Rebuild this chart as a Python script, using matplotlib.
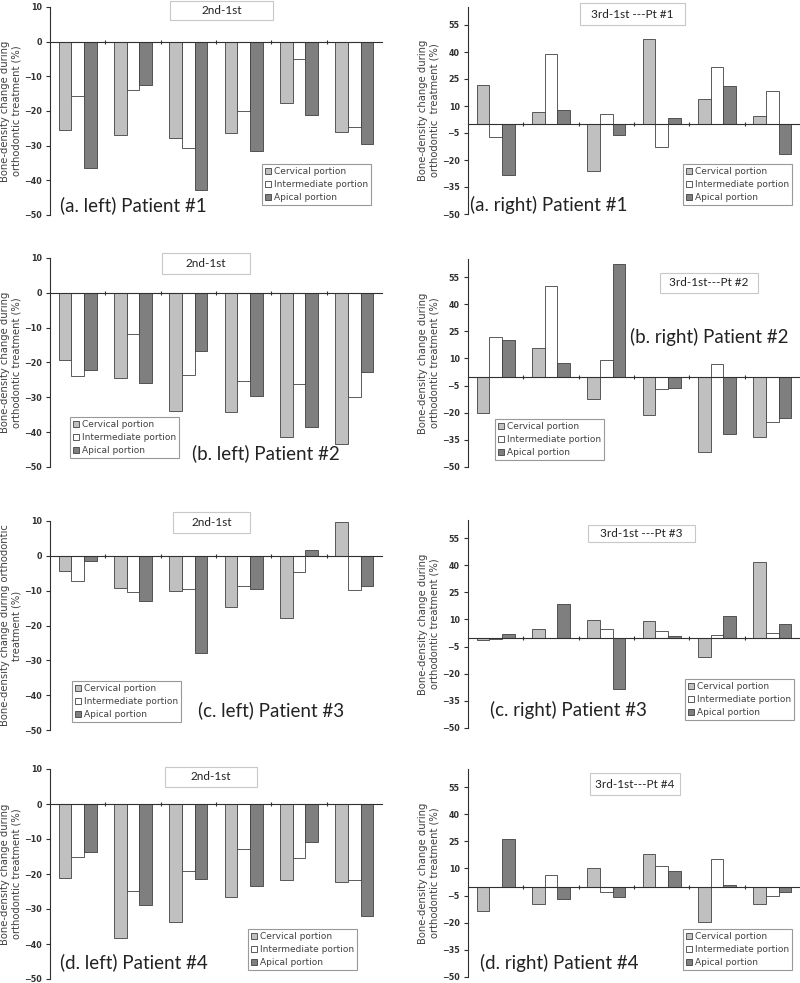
import matplotlib
matplotlib.use("Agg")
import matplotlib.pyplot as plt
from matplotlib.patches import Rectangle
import numpy as np

W, H = 800, 983

series_names = ["Cervical portion", "Intermediate portion", "Apical portion"]
bar_colors = ["#c0c0c0", "#ffffff", "#7f7f7f"]

# 2nd-1st (left column), six groups each
pt1_2nd_cerv = [-25.5, -26.8, -27.8, -26.3, -17.7, -26.0]
pt1_2nd_inter = [-15.6, -13.9, -30.6, -19.9, -5.0, -24.5]
pt1_2nd_apical = [-36.4, -12.6, -42.8, -31.4, -21.2, -29.6]

pt2_2nd_cerv = [-19.2, -24.5, -34.0, -34.3, -41.5, -43.3]
pt2_2nd_inter = [-24.0, -11.9, -23.5, -25.4, -26.2, -29.8]
pt2_2nd_apical = [-22.1, -26.0, -16.8, -29.7, -38.4, -22.6]

pt3_2nd_cerv = [-4.4, -9.1, -10.1, -14.6, -17.8, 9.6]
pt3_2nd_inter = [-7.3, -10.5, -9.4, -8.6, -4.7, -9.9]
pt3_2nd_apical = [-1.5, -13.0, -27.8, -9.4, 1.8, -8.6]

pt4_2nd_cerv = [-21.2, -38.3, -33.8, -26.7, -21.6, -22.4]
pt4_2nd_inter = [-15.0, -24.8, -19.2, -12.9, -15.4, -21.7]
pt4_2nd_apical = [-13.6, -28.9, -21.4, -23.4, -10.9, -31.9]

# 3rd-1st (right column)
pt1_3rd_cerv = [21.9, 6.7, -26.3, 47.0, 13.7, 4.3]
pt1_3rd_inter = [-7.4, 38.9, 5.6, -12.6, 31.5, 18.5]
pt1_3rd_apical = [-28.3, 8.0, -6.1, 3.5, 21.3, -16.7]

pt2_3rd_cerv = [-20.0, 15.6, -12.4, -21.1, -41.9, -33.5]
pt2_3rd_inter = [21.7, 50.2, 9.4, -7.0, 6.9, -25.2]
pt2_3rd_apical = [20.2, 7.6, 62.2, -6.3, -32.0, -23.0]

pt3_3rd_cerv = [-1.3, 4.8, 9.6, 9.4, -10.5, 41.9]
pt3_3rd_inter = [-0.7, -0.5, 4.8, 3.5, 1.3, 2.6]
pt3_3rd_apical = [1.7, 18.8, -28.2, 1.1, 11.8, 7.6]

pt4_3rd_cerv = [-13.3, -9.8, 10.1, 17.9, -19.6, -9.4]
pt4_3rd_inter = [-0.4, 6.5, -3.0, 11.1, 15.3, -5.0]
pt4_3rd_apical = [26.4, -7.0, -5.7, 8.5, 1.1, -3.1]

left_ticks = [10, 0, -10, -20, -30, -40, -50]
right_ticks = [55, 40, 25, 10, -5, -20, -35, -50]

ylabel_std = "Bone-density change during\northodontic treatment (%)"
ylabel_c = "Bone-density change during orthodontic\ntreatment (%)"
ylabel_r = "Bone-density change during\northodontic  treatment (%)"

# layout in pixels: axes (x0, top, x1, bottom), title box, legend corner, label pos
panels = [
    dict(vals=(pt1_2nd_cerv, pt1_2nd_inter, pt1_2nd_apical), right=False,
         ax=(50, 7, 382, 215), title="2nd-1st", tbox=(170, 1, 273, 20),
         leg=(262, 164), label="(a. left) Patient #1", lpos=(60, 205), ylabel=ylabel_std),
    dict(vals=(pt1_3rd_cerv, pt1_3rd_inter, pt1_3rd_apical), right=True,
         ax=(468, 7, 800, 214), title="3rd-1st ---Pt #1", tbox=(580, 3, 685, 25),
         leg=(683, 164), label="(a. right) Patient #1", lpos=(470, 205), ylabel=ylabel_r),
    dict(vals=(pt2_2nd_cerv, pt2_2nd_inter, pt2_2nd_apical), right=False,
         ax=(50, 258, 382, 467), title="2nd-1st", tbox=(162, 253, 250, 274),
         leg=(70, 417), label="(b. left) Patient #2", lpos=(192, 453), ylabel=ylabel_std),
    dict(vals=(pt2_3rd_cerv, pt2_3rd_inter, pt2_3rd_apical), right=True,
         ax=(468, 259, 800, 467), title="3rd-1st---Pt #2", tbox=(660, 273, 758, 293),
         leg=(495, 419), label="(b. right) Patient #2", lpos=(630, 337), ylabel=ylabel_std),
    dict(vals=(pt3_2nd_cerv, pt3_2nd_inter, pt3_2nd_apical), right=False,
         ax=(50, 521, 382, 730), title="2nd-1st", tbox=(173, 512, 250, 533),
         leg=(72, 681), label="(c. left) Patient #3", lpos=(198, 710), ylabel=ylabel_c),
    dict(vals=(pt3_3rd_cerv, pt3_3rd_inter, pt3_3rd_apical), right=True,
         ax=(468, 520, 800, 728), title="3rd-1st ---Pt #3", tbox=(588, 525, 695, 542),
         leg=(685, 679), label="(c. right) Patient #3", lpos=(490, 710), ylabel=ylabel_std),
    dict(vals=(pt4_2nd_cerv, pt4_2nd_inter, pt4_2nd_apical), right=False,
         ax=(50, 769, 382, 979), title="2nd-1st", tbox=(165, 767, 257, 787),
         leg=(248, 929), label="(d. left) Patient #4", lpos=(60, 962), ylabel=ylabel_std),
    dict(vals=(pt4_3rd_cerv, pt4_3rd_inter, pt4_3rd_apical), right=True,
         ax=(468, 769, 800, 977), title="3rd-1st---Pt #4", tbox=(590, 773, 680, 795),
         leg=(683, 929), label="(d. right) Patient #4", lpos=(480, 963), ylabel=ylabel_std),
]

fig = plt.figure(figsize=(W / 100, H / 100), dpi=100)
fig.patch.set_facecolor("white")

x = np.arange(6)
bw = 0.23

for p in panels:
    x0, top, x1, bottom = p["ax"]
    ax = fig.add_axes([x0 / W, 1 - bottom / H, (x1 - x0) / W, (bottom - top) / H])

    for i, (vals, name, col) in enumerate(zip(p["vals"], series_names, bar_colors)):
        ax.bar(x + (i - 1) * bw, vals, bw, color=col, edgecolor="#404040",
               linewidth=0.6, label=name, zorder=2)

    ax.set_xlim(-0.5, 5.5)
    if p["right"]:
        ax.set_ylim(-50, 65)
        ax.set_yticks(right_ticks)
    else:
        ax.set_ylim(-50, 10)
        ax.set_yticks(left_ticks)

    for s in ["top", "right"]:
        ax.spines[s].set_visible(False)
    ax.spines["bottom"].set_position(("data", 0))
    ax.spines["bottom"].set_color("#303030")
    ax.spines["left"].set_color("#303030")
    ax.spines["bottom"].set_zorder(3)

    ax.set_xticks(x[:-1] + 0.5)
    ax.set_xticklabels([])
    ax.tick_params(axis="x", direction="inout", length=3, width=0.8, color="#303030")
    ax.tick_params(axis="y", direction="out", length=3, width=0.8, color="#303030",
                   labelsize=5.8, pad=3)
    for t in ax.get_yticklabels():
        t.set_fontweight("bold")
        t.set_color("#303030")

    ax.set_ylabel(p["ylabel"], fontsize=7.2, color="#404040", labelpad=2, linespacing=1.15)

    lx, ly = p["leg"]
    leg = ax.legend(loc="upper left", bbox_to_anchor=(lx / W, 1 - ly / H),
                    bbox_transform=fig.transFigure, fontsize=6.5, frameon=True,
                    fancybox=False, edgecolor="#808080", handlelength=0.7,
                    handleheight=0.7, handletextpad=0.25, borderpad=0.35,
                    labelspacing=0.45, borderaxespad=0)
    leg.get_frame().set_linewidth(0.8)
    for t in leg.get_texts():
        t.set_color("#404040")

    bx0, by0, bx1, by1 = p["tbox"]
    fig.patches.append(Rectangle((bx0 / W, 1 - by1 / H), (bx1 - bx0) / W, (by1 - by0) / H,
                                 transform=fig.transFigure, facecolor="white",
                                 edgecolor="#c8c8c8", linewidth=0.8, zorder=5))
    fig.text((bx0 + bx1) / 2 / W, 1 - (by0 + by1) / 2 / H, p["title"], ha="center",
             va="center", fontsize=8.5, family="Lato", color="#222222", zorder=6)

    tx, ty = p["lpos"]
    fig.text(tx / W, 1 - ty / H, p["label"], ha="left", va="center", fontsize=13.5,
             family="Lato", color="#222222", zorder=6)

fig.savefig("out.png", dpi=100)
